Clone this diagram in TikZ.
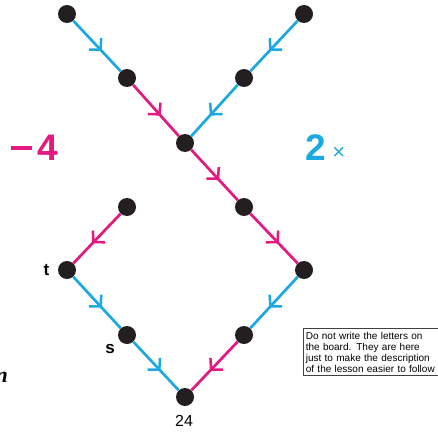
\documentclass[tikz,border=0pt]{standalone}
\usepackage{fontspec}
\setmainfont{Liberation Sans}
\newfontfamily\serifbold{Liberation Serif}
\usetikzlibrary{arrows.meta,decorations.markings}
\definecolor{pathBlue}{HTML}{1CA9E1}
\definecolor{pathPink}{HTML}{E5187F}
\definecolor{dotInk}{HTML}{231F20}
\def\lw{2.7pt}
\def\tippos{0.6}

\begin{document}
\begin{tikzpicture}[
  x=1pt, y=-1pt,
  dot/.style={circle, fill=dotInk, inner sep=0pt, minimum size=18pt},
  leg/.style={line width=\lw, postaction={decorate},
    decoration={markings, mark=at position \tippos with
      {\arrow[line width=2.5pt]{Straight Barb[length=8pt,width=17pt]}}}},
  blueleg/.style={leg, color=pathBlue},
  pinkleg/.style={leg, color=pathPink},
  ptlabel/.style={font=\fontsize{16}{18}\selectfont},
  oplabel/.style={font=\fontsize{37}{40}\selectfont\bfseries},
  note/.style={draw=black!75, line width=0.6pt, align=left, anchor=north west,
    text width=150pt, inner xsep=2.5pt, inner ysep=3.5pt,
    font=\fontsize{10}{11}\selectfont},
]
\useasboundingbox (0,0) rectangle (438,433);

% =====================================================================
% DOTS
% =====================================================================
\node[dot] (topL)  at (67,14)   {};
\node[dot] (topR)  at (304,14)  {};
\node[dot] (upL)   at (127,78)  {};
\node[dot] (upR)   at (244,78)  {};
\node[dot] (cross) at (185,143) {};
\node[dot] (midR)  at (244,207) {};
\node[dot] (farR)  at (304,270) {};
\node[dot] (start) at (127,207) {};
\node[dot] (tdot)  at (67,270)  {};
\node[dot] (sdot)  at (127,335) {};
\node[dot] (lowR)  at (244,335) {};
\node[dot] (bottom) at (185,397) {};

% =====================================================================
% LEGS (blue = 2x, pink = -4)
% =====================================================================
\draw[blueleg] (topL) -- (upL);
\draw[pinkleg] (upL) -- (cross);
\draw[blueleg] (topR) -- (upR);
\draw[blueleg] (upR) -- (cross);
\draw[pinkleg] (cross) -- (midR);
\draw[pinkleg] (midR) -- (farR);
\draw[blueleg] (farR) -- (lowR);
\draw[pinkleg] (lowR) -- (bottom);
\draw[pinkleg] (start) -- (tdot);
\draw[blueleg] (tdot) -- (sdot);
\draw[blueleg] (sdot) -- (bottom);

% =====================================================================
% LABELS
% =====================================================================
\node[ptlabel, font=\fontsize{17}{18}\selectfont\bfseries] (tlab) at (46.5,270) {t};
\node[ptlabel, font=\fontsize{17}{18}\selectfont\bfseries] (slab) at (110,349) {s};
\node[ptlabel] (botlab) at (184,421) {24};
\node[oplabel, text=pathPink] (minus) at (35,148) {\rule[0.3em]{0.55em}{0.09em}\,4};
\node[oplabel, text=pathBlue, anchor=base west] (times) at (302,160)
  {2\,{\fontsize{22}{24}\selectfont\mdseries\raisebox{1pt}{×}}};

% note box (runs off the right edge)
\node[note] (hint) at (303,328)
  {Do not write the letters on\\
   the board.  They are here\\
   just to make the description\\
   of the lesson easier to follow};

% cropped letter at the left edge
\node[font=\serifbold\fontsize{22}{24}\selectfont\bfseries\itshape,
      anchor=base east, inner sep=0pt] (crop) at (8,382) {n};

\end{tikzpicture}
\end{document}
